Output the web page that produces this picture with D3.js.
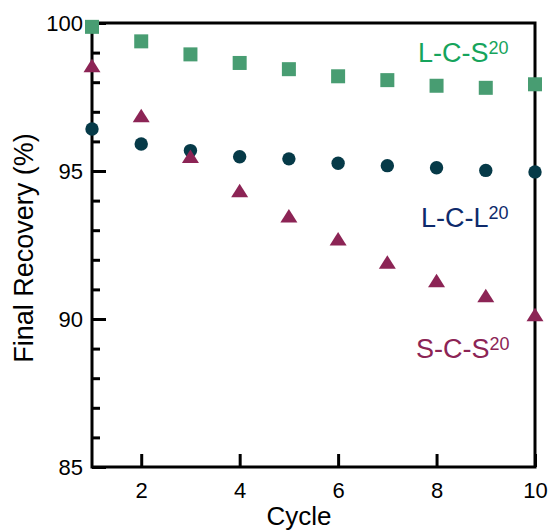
<!DOCTYPE html>
<html>
<head>
<meta charset="utf-8">
<script src="https://cdn.jsdelivr.net/npm/d3@7/dist/d3.min.js"></script>
<style>
  html, body { margin: 0; padding: 0; background: #fff; }
  svg { display: block; }
  text { font-family: "Liberation Sans", Arial, Helvetica, sans-serif; }
</style>
</head>
<body>
<svg id="chart" width="548" height="530"></svg>
<script>
const cycles = [1, 2, 3, 4, 5, 6, 7, 8, 9, 10];
const lcs = [99.87, 99.38, 98.94, 98.65, 98.44, 98.20, 98.07, 97.88, 97.81, 97.93];
const lcl = [96.42, 95.91, 95.69, 95.48, 95.41, 95.26, 95.18, 95.11, 95.02, 94.97];
const scs = [98.52, 96.83, 95.46, 94.30, 93.45, 92.67, 91.88, 91.26, 90.75, 90.11];
const yMajorTicks = [85, 90, 95, 100];
const yMinorTicks = [86, 87, 88, 89, 91, 92, 93, 94, 96, 97, 98, 99];
const xTicks = [2, 4, 6, 8, 10];
const labels = ["L-C-S", "L-C-L", "S-C-S"];
const supText = "20";

(function () {
const svg = d3.select("#chart");
const mLeft = 92, mRight = 535, mTop = 23, mBottom = 467;
const x = d3.scaleLinear().domain([1, 10]).range([mLeft, mRight]);
const y = d3.scaleLinear().domain([85, 100]).range([mBottom, mTop]);

const tickFont = 22;
const ff = '"Liberation Sans", Arial, Helvetica, sans-serif';

// minor y ticks
svg.append("g")
  .attr("transform", `translate(${mLeft},0)`)
  .call(d3.axisLeft(y).tickValues(yMinorTicks).tickSize(-8).tickFormat(""))
  .call(g => g.select(".domain").remove())
  .call(g => g.selectAll("line").attr("stroke", "#000").attr("stroke-width", 3));

// major y ticks
svg.append("g")
  .attr("transform", `translate(${mLeft},0)`)
  .call(d3.axisLeft(y).tickValues(yMajorTicks).tickSize(-14).tickPadding(9).tickFormat(d3.format("d")))
  .call(g => g.select(".domain").remove())
  .call(g => g.selectAll("line").attr("stroke", "#000").attr("stroke-width", 3))
  .call(g => g.selectAll("text").attr("font-size", tickFont).attr("fill", "#000").attr("font-family", ff));

// x ticks
svg.append("g")
  .attr("transform", `translate(0,${mBottom})`)
  .call(d3.axisBottom(x).tickValues(xTicks).tickSize(-13).tickPadding(15).tickFormat(d3.format("d")))
  .call(g => g.select(".domain").remove())
  .call(g => g.selectAll("line").attr("stroke", "#000").attr("stroke-width", 3))
  .call(g => g.selectAll("text").attr("font-size", tickFont).attr("fill", "#000").attr("font-family", ff));

// frame
svg.append("rect")
  .attr("x", mLeft).attr("y", mTop)
  .attr("width", mRight - mLeft).attr("height", mBottom - mTop)
  .attr("fill", "none").attr("stroke", "#000").attr("stroke-width", 3);

// axis titles
svg.append("text")
  .attr("transform", `translate(33,248) rotate(-90)`)
  .attr("text-anchor", "middle")
  .attr("font-size", 27)
  .attr("fill", "#000")
  .text("Final Recovery (%)");

svg.append("text")
  .attr("x", 299).attr("y", 525)
  .attr("text-anchor", "middle")
  .attr("font-size", 26)
  .attr("fill", "#000")
  .text("Cycle");

// markers
const sq = 14;
svg.append("g").selectAll("rect")
  .data(cycles.map((c, i) => [c, lcs[i]]))
  .join("rect")
  .attr("x", d => x(d[0]) - sq / 2)
  .attr("y", d => y(d[1]) - sq / 2)
  .attr("width", sq).attr("height", sq)
  .attr("fill", "#489d72");

svg.append("g").selectAll("circle")
  .data(cycles.map((c, i) => [c, lcl[i]]))
  .join("circle")
  .attr("cx", d => x(d[0]))
  .attr("cy", d => y(d[1]))
  .attr("r", 6.7)
  .attr("fill", "#063a48");

const triPath = "M0,-8L8.5,5.5L-8.5,5.5Z";
svg.append("g").selectAll("path")
  .data(cycles.map((c, i) => [c, scs[i]]))
  .join("path")
  .attr("transform", d => `translate(${x(d[0])},${y(d[1])})`)
  .attr("d", triPath)
  .attr("fill", "#8c2455");

// series labels
const labelPos = [
  { x: 418, y: 62, color: "#16a45c" },
  { x: 421, y: 227, color: "#0e2a6b" },
  { x: 416, y: 358, color: "#8c2455" }
];
labels.forEach((lab, i) => {
  const t = svg.append("text")
    .attr("x", labelPos[i].x).attr("y", labelPos[i].y)
    .attr("font-size", 27)
    .attr("fill", labelPos[i].color);
  t.append("tspan").text(lab);
  t.append("tspan").attr("font-size", 18).attr("dy", -8).text(supText);
});
})();
</script>
</body>
</html>
